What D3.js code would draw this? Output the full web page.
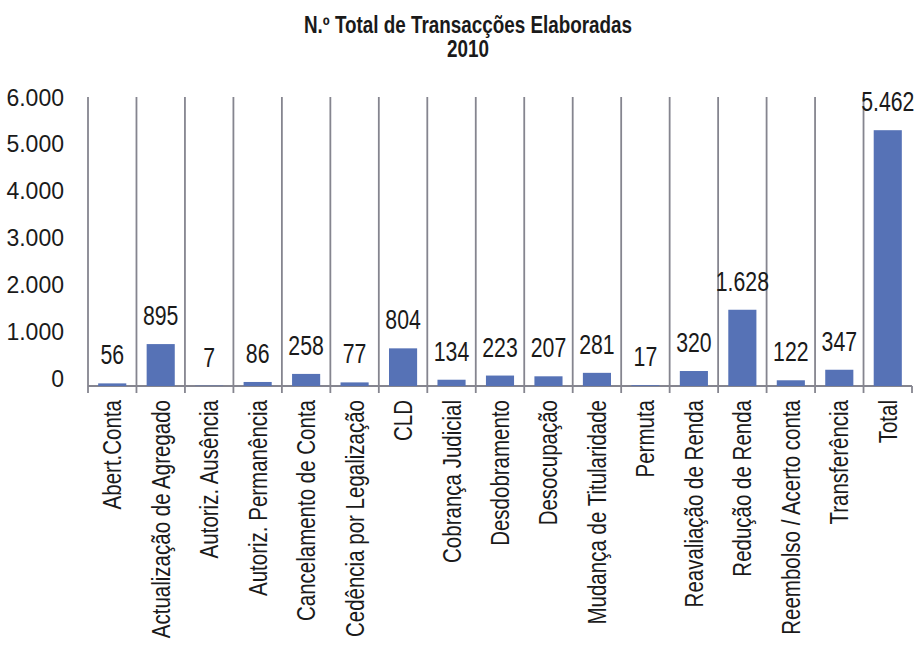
<!DOCTYPE html>
<html>
<head>
<meta charset="utf-8">
<script src="https://cdn.jsdelivr.net/npm/d3@7/dist/d3.min.js"></script>
<style>
  html, body { margin: 0; padding: 0; background: #fff; }
  svg { display: block; font-family: "Liberation Sans", Arial, sans-serif; }
</style>
</head>
<body>
<svg id="chart" width="918" height="656"></svg>
<script>
// Transaction types processed in 2010
const categories = [
  "Abert.Conta", "Actualização de Agregado", "Autoriz. Ausência", "Autoriz. Permanência",
  "Cancelamento de Conta", "Cedência por Legalização", "CLD", "Cobrança Judicial",
  "Desdobramento", "Desocupação", "Mudança de Titularidade", "Permuta",
  "Reavaliação de Renda", "Redução de Renda", "Reembolso / Acerto conta",
  "Transferência", "Total"
];
const values = [56, 895, 7, 86, 258, 77, 804, 134, 223, 207, 281, 17, 320, 1628, 122, 347, 5462];
const yTicks = [0, 1000, 2000, 3000, 4000, 5000, 6000];
const titleLines = ["N.º Total de Transacções Elaboradas", "2010"];

const svg = d3.select("#chart");
const plotLeft = 88, plotRight = 912, plotBase = 386, plotTop = 105;
const gridTop = 97, tickBottom = 393;
const lineColor = "#85858f";
const barColor = "#5672b6";
const textColor = "#1a1a1a";

const fmt = v => d3.format(",")(v).replace(/,/g, ".");

const x = d3.scaleBand().domain(categories).range([plotLeft, plotRight]).paddingInner(0).paddingOuter(0);
const y = d3.scaleLinear().domain([0, 6000]).range([plotBase, plotTop]);

// Title
svg.append("g")
  .selectAll("text")
  .data(titleLines)
  .join("text")
  .attr("transform", (d, i) => `translate(468,${i === 0 ? 33 : 57}) scale(0.82,1)`)
  .attr("text-anchor", "middle")
  .attr("font-weight", "bold")
  .attr("font-size", 23)
  .attr("fill", textColor)
  .text(d => d);

// Category separators (full height) with the closing tick at the right end
const bounds = categories.map(c => x(c));
svg.append("g")
  .selectAll("line")
  .data(bounds)
  .join("line")
  .attr("x1", d => d).attr("x2", d => d)
  .attr("y1", gridTop).attr("y2", tickBottom)
  .attr("stroke", lineColor).attr("stroke-width", 1.8);
svg.append("line")
  .attr("x1", plotRight).attr("x2", plotRight)
  .attr("y1", plotBase).attr("y2", tickBottom)
  .attr("stroke", lineColor).attr("stroke-width", 1.8);

// Baseline
svg.append("line")
  .attr("x1", plotLeft).attr("x2", plotRight)
  .attr("y1", plotBase).attr("y2", plotBase)
  .attr("stroke", lineColor).attr("stroke-width", 1.8);

// Y axis labels
const yAxis = d3.axisLeft(y).tickValues(yTicks).tickSize(0).tickPadding(0).tickFormat(fmt);
const yg = svg.append("g").attr("transform", "translate(64,0)").call(yAxis);
yg.select(".domain").remove();
yg.selectAll("text")
  .attr("font-size", 23)
  .attr("font-family", "'Liberation Sans', Arial, sans-serif")
  .attr("fill", textColor)
  .attr("dy", "0.35em")
  .attr("transform", "translate(0,-8)");

// Bars
const barW = x.bandwidth() * 0.58;
svg.append("g")
  .selectAll("rect")
  .data(values)
  .join("rect")
  .attr("x", (d, i) => x(categories[i]) + (x.bandwidth() - barW) / 2)
  .attr("y", d => y(d))
  .attr("width", barW)
  .attr("height", d => plotBase - y(d))
  .attr("fill", barColor);

// Value labels
svg.append("g")
  .selectAll("text")
  .data(values)
  .join("text")
  .attr("transform", (d, i) => `translate(${x(categories[i]) + x.bandwidth() / 2},${y(d) - 19}) scale(0.76,1)`)
  .attr("text-anchor", "middle")
  .attr("font-size", 28)
  .attr("fill", textColor)
  .text(d => fmt(d));

// Category labels, rotated
svg.append("g")
  .selectAll("text")
  .data(categories)
  .join("text")
  .attr("transform", d => `translate(${x(d) + x.bandwidth() / 2},400) rotate(-90) scale(0.82,1)`)
  .attr("text-anchor", "end")
  .attr("dy", "0.36em")
  .attr("font-size", 25)
  .attr("fill", textColor)
  .text(d => d);
</script>
</body>
</html>
